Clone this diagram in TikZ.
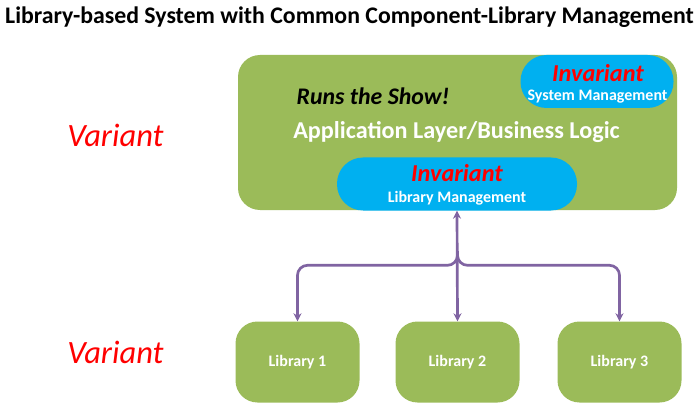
\documentclass[tikz,border=0pt]{standalone}
\usepackage{fontspec}
\setmainfont{Carlito}
\usetikzlibrary{arrows.meta,positioning,calc}
\definecolor{olive}{HTML}{9BBB59}
\definecolor{sky}{HTML}{00B0F0}
\definecolor{grape}{HTML}{8064A2}
\begin{document}
\begin{tikzpicture}[x=1pt, y=1pt, >={Stealth[length=8pt,width=8pt]},
	box/.style={fill=olive, rounded corners=22pt, minimum width=#1, inner sep=0pt},
	pill/.style={fill=sky, rounded corners=26pt, minimum height=53pt, inner sep=0pt},
	libbox/.style={fill=olive, rounded corners=22pt, minimum width=124pt, minimum height=81pt, inner sep=0pt,
		text=white, font=\bfseries\fontsize{16}{19}\selectfont},
	link/.style={draw=grape, line width=2.7pt, rounded corners=10pt},
	tag/.style={text=red, font=\itshape\fontsize{32.5}{38}\selectfont}]
	\useasboundingbox (0,0) rectangle (699,405);
	\node (title) at (349.5,388) {\bfseries\fontsize{23.8}{27}\selectfont Library-based System with Common Component-Library Management};

	% application layer
	\node[box=439pt, minimum height=155pt] (app) at (457.5,272.5) {};
	\node[pill, minimum width=153pt] (sysmgmt) at (597,323.5) {};
	\node[pill, minimum width=240pt] (libmgmt) at (457,221) {};
	\node[font=\bfseries\itshape\fontsize{23.8}{27}\selectfont] (show) at (373,309) {Runs the Show!};
	\node[text=white, font=\bfseries\fontsize{24.2}{28}\selectfont] (logic) at (456.5,273) {Application Layer/Business Logic};
	\node[text=red, font=\bfseries\itshape\fontsize{24.3}{28}\selectfont] (inv1) at (598,332) {Invariant};
	\node[text=white, font=\bfseries\fontsize{16}{19}\selectfont] (sysname) at (597.5,308.5) {System Management};
	\node[text=red, font=\bfseries\itshape\fontsize{24.3}{28}\selectfont] (inv2) at (457,232) {Invariant};
	\node[text=white, font=\bfseries\fontsize{16}{19}\selectfont] (libname) at (457,206.5) {Library Management};

	% libraries
	\node[libbox] (lib1) at (297.5,43) {Library 1};
	\node[libbox] (lib2) at (457.5,43) {Library 2};
	\node[libbox] (lib3) at (619.5,43) {Library 3};

	\node[tag] (var1) at (115.5,270) {Variant};
	\node[tag] (var2) at (115.5,53) {Variant};

	% connectors
	\coordinate (fork) at (457.5,154);
	\draw[link, <->] (libmgmt.south) -- (lib2.north);
	\draw[link, ->] (fork) |- ($(lib1.north)+(0,56)$) -- (lib1.north);
	\draw[link, ->] (fork) |- ($(lib3.north)+(0,56)$) -- (lib3.north);
\end{tikzpicture}
\end{document}
